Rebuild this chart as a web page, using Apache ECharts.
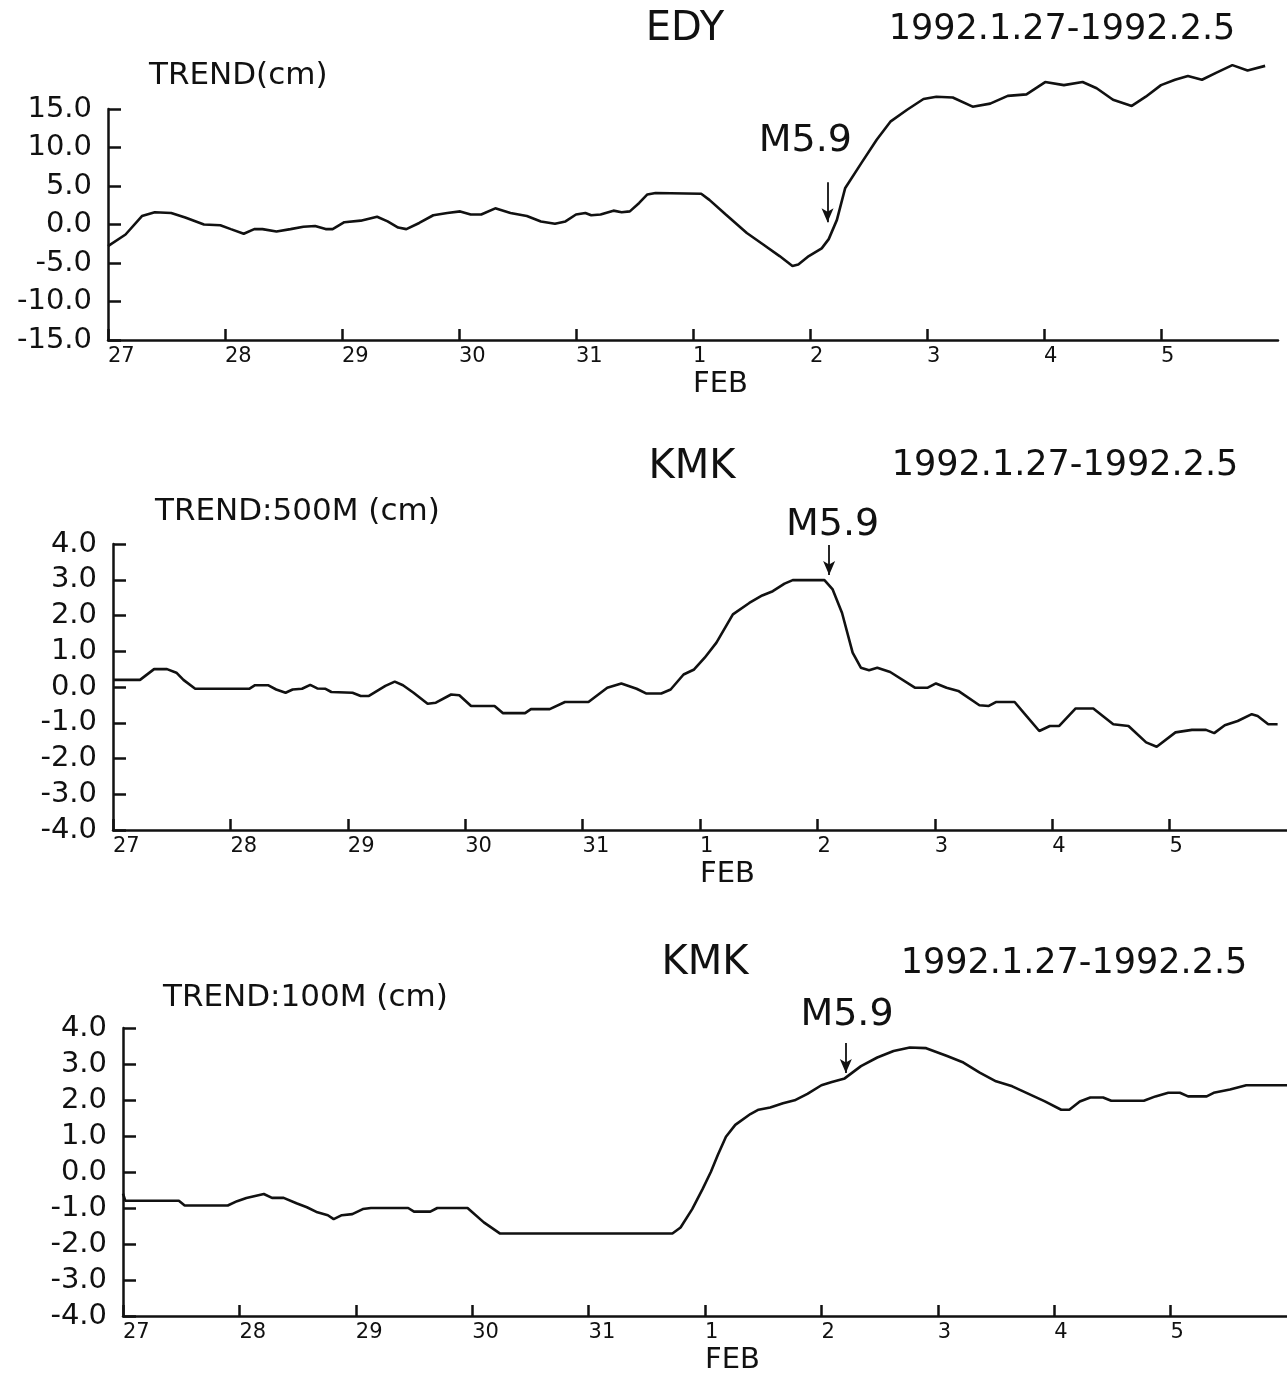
<!DOCTYPE html>
<html>
<head>
<meta charset="utf-8">
<script src="https://cdn.jsdelivr.net/npm/echarts@6.0.0/dist/echarts.min.js"></script>
<style>
  html, body { margin: 0; padding: 0; background: #fff; }
  #chart { width: 1287px; height: 1377px; }
</style>
</head>
<body>
<div id="chart"></div>
<script>
/****** DATA ******/
// x = days after 1992.1.27 00:00
const dayLabels = ['27', '28', '29', '30', '31', '1', '2', '3', '4', '5'];
const dayTicks = [0, 1, 2, 3, 4, 5, 6, 7, 8, 9];

// EDY trend (cm)
const edyDay = [0, 0.15, 0.29, 0.40, 0.54, 0.66, 0.82, 0.96, 1.05, 1.16, 1.25, 1.32, 1.44, 1.56, 1.67, 1.77, 1.86, 1.92,
  2.02, 2.16, 2.30, 2.39, 2.48, 2.55, 2.66, 2.78, 2.90, 3.01, 3.10, 3.19, 3.31, 3.44, 3.58, 3.70, 3.82, 3.91,
  4.00, 4.08, 4.13, 4.21, 4.32, 4.39, 4.46, 4.54, 4.61, 4.68, 5.07, 5.14, 5.28, 5.46, 5.60, 5.74, 5.85, 5.90,
  5.99, 6.10, 6.16, 6.23, 6.30, 6.44, 6.57, 6.69, 6.83, 6.97, 7.08, 7.22, 7.39, 7.54, 7.69, 7.85, 8.01, 8.17,
  8.33, 8.45, 8.59, 8.75, 8.87, 9.00, 9.12, 9.23, 9.35, 9.47, 9.61, 9.74, 9.89];
const edyTrend = [-2.8, -1.3, 1.1, 1.6, 1.5, 0.9, 0.0, -0.1, -0.6, -1.2, -0.6, -0.6, -0.9, -0.6, -0.3, -0.2, -0.6, -0.6,
  0.3, 0.5, 1.0, 0.4, -0.4, -0.6, 0.2, 1.2, 1.5, 1.7, 1.3, 1.3, 2.1, 1.5, 1.1, 0.4, 0.1, 0.4,
  1.3, 1.5, 1.2, 1.3, 1.8, 1.6, 1.7, 2.8, 3.9, 4.1, 4.0, 3.2, 1.3, -1.1, -2.6, -4.1, -5.4, -5.2,
  -4.1, -3.1, -1.9, 0.6, 4.7, 8.0, 11.0, 13.4, 14.9, 16.3, 16.6, 16.5, 15.3, 15.7, 16.7, 16.9, 18.5, 18.1,
  18.5, 17.7, 16.2, 15.4, 16.6, 18.1, 18.8, 19.3, 18.8, 19.7, 20.7, 20.0, 20.6];

// KMK trend 500M (cm)
const kmk500Day = [0, 0.23, 0.35, 0.46, 0.54, 0.60, 0.70, 1.16, 1.21, 1.32, 1.39, 1.47, 1.53, 1.61, 1.68, 1.74, 1.81, 1.86,
  2.04, 2.11, 2.18, 2.32, 2.40, 2.47, 2.56, 2.68, 2.75, 2.88, 2.95, 3.05, 3.25, 3.32, 3.51, 3.56, 3.72, 3.85,
  4.05, 4.21, 4.33, 4.46, 4.54, 4.67, 4.75, 4.86, 4.95, 5.04, 5.14, 5.28, 5.42, 5.53, 5.62, 5.72, 5.79, 6.06,
  6.13, 6.21, 6.30, 6.37, 6.44, 6.51, 6.62, 6.83, 6.94, 7.01, 7.10, 7.20, 7.38, 7.46, 7.52, 7.68, 7.76, 7.89,
  7.98, 8.06, 8.20, 8.35, 8.52, 8.65, 8.80, 8.89, 9.05, 9.19, 9.31, 9.38, 9.47, 9.58, 9.70, 9.75, 9.84, 9.92];
const kmk500Trend = [0.2, 0.2, 0.5, 0.5, 0.4, 0.2, -0.05, -0.05, 0.05, 0.05, -0.07, -0.16, -0.07, -0.05, 0.06, -0.04, -0.05, -0.14,
  -0.16, -0.25, -0.25, 0.03, 0.15, 0.05, -0.16, -0.47, -0.44, -0.21, -0.23, -0.53, -0.53, -0.73, -0.73, -0.62, -0.62, -0.42,
  -0.42, -0.02, 0.10, -0.05, -0.18, -0.18, -0.07, 0.35, 0.49, 0.82, 1.24, 2.03, 2.35, 2.56, 2.68, 2.89, 2.99, 2.99,
  2.73, 2.07, 0.96, 0.54, 0.47, 0.54, 0.42, -0.02, -0.02, 0.10, -0.02, -0.11, -0.51, -0.53, -0.42, -0.42, -0.73, -1.23,
  -1.09, -1.09, -0.60, -0.60, -1.04, -1.09, -1.55, -1.67, -1.27, -1.20, -1.20, -1.29, -1.07, -0.95, -0.76, -0.81, -1.04, -1.04];

// KMK trend 100M (cm)
const kmk100Day = [0, 0.02, 0.48, 0.53, 0.90, 0.98, 1.06, 1.21, 1.28, 1.38, 1.49, 1.58, 1.67, 1.76, 1.81, 1.88, 1.97, 2.06,
  2.13, 2.45, 2.50, 2.64, 2.70, 2.96, 3.10, 3.24, 4.72, 4.79, 4.89, 4.98, 5.05, 5.11, 5.18, 5.26, 5.39, 5.46,
  5.56, 5.67, 5.77, 5.88, 6.00, 6.09, 6.20, 6.34, 6.48, 6.62, 6.76, 6.90, 7.08, 7.22, 7.36, 7.50, 7.64, 7.78,
  7.92, 8.06, 8.13, 8.22, 8.31, 8.42, 8.49, 8.77, 8.87, 8.98, 9.08, 9.15, 9.31, 9.37, 9.51, 9.65, 10.0];
const kmk100Trend = [-0.6, -0.8, -0.8, -0.93, -0.93, -0.81, -0.72, -0.61, -0.72, -0.72, -0.87, -0.98, -1.12, -1.20, -1.31, -1.20, -1.17, -1.03,
  -1.0, -1.0, -1.1, -1.1, -1.0, -1.0, -1.4, -1.71, -1.71, -1.54, -1.03, -0.47, 0, 0.47, 0.98, 1.31, 1.61, 1.73,
  1.79, 1.91, 1.99, 2.17, 2.41, 2.50, 2.60, 2.94, 3.18, 3.36, 3.46, 3.44, 3.22, 3.04, 2.76, 2.52, 2.38, 2.17,
  1.96, 1.73, 1.73, 1.96, 2.07, 2.07, 1.98, 1.98, 2.10, 2.20, 2.20, 2.10, 2.10, 2.20, 2.29, 2.41, 2.41];

// M5.9 earthquake: arrow [day, from, to] and label [day, value]
const quakeArrows = [[6.15, 5.5, 0.3], [6.10, 3.97, 3.13], [6.21, 3.58, 2.75]];
const quakeLabels = [[5.96, 10.8], [6.13, 4.53], [6.22, 4.36]];
const quakeText = 'M5.9';

const stations = ['EDY', 'KMK', 'KMK'];
const trendTitles = ['TREND(cm)', 'TREND:500M (cm)', 'TREND:100M (cm)'];
const period = '1992.1.27-1992.2.5';

/****** LAYOUT ******/
const FONT = "'DejaVu Sans', sans-serif";
const INK = '#111';

const panels = [
  { days: edyDay, values: edyTrend, yMin: -15, yMax: 15, yStep: 5,
    grid: { left: 108, top: 109, width: 1170, height: 231 },
    stationAt: [685, 30], periodAt: [1062, 30], trendAt: [149, 76] },
  { days: kmk500Day, values: kmk500Trend, yMin: -4, yMax: 4, yStep: 1,
    grid: { left: 113, top: 544, width: 1175, height: 286 },
    stationAt: [692, 468], periodAt: [1065, 466], trendAt: [155, 512] },
  { days: kmk100Day, values: kmk100Trend, yMin: -4, yMax: 4, yStep: 1,
    grid: { left: 123, top: 1028, width: 1172, height: 288 },
    stationAt: [705, 964], periodAt: [1074, 964], trendAt: [163, 998] }
];

var grids = [], xAxes = [], yAxes = [], series = [], texts = [];

panels.forEach(function (p, i) {
  grids.push(p.grid);

  xAxes.push({
    gridIndex: i, type: 'value', min: 0, max: 10, interval: 1,
    axisLine: { onZero: false, lineStyle: { color: INK, width: 2.5 } },
    axisTick: { inside: true, length: 11, customValues: dayTicks, lineStyle: { color: INK, width: 2.5 } },
    axisLabel: {
      customValues: dayTicks, align: 'left', margin: 6,
      color: INK, fontFamily: FONT, fontSize: 21,
      formatter: function (v) {
        var lab = dayLabels[Math.round(v)];
        return Math.round(v) === 5 ? lab + '\n{f|FEB}' : lab;
      },
      rich: { f: { fontFamily: FONT, fontSize: 29, color: INK, padding: [3, 0, 0, 0] } }
    },
    splitLine: { show: false }
  });

  yAxes.push({
    gridIndex: i, type: 'value', min: p.yMin, max: p.yMax, interval: p.yStep,
    axisLine: { onZero: false, lineStyle: { color: INK, width: 2.5 } },
    axisTick: { inside: true, length: 13, lineStyle: { color: INK, width: 2.5 } },
    axisLabel: {
      margin: 16, color: INK, fontFamily: FONT, fontSize: 29,
      formatter: function (v) { return v.toFixed(1); }
    },
    splitLine: { show: false }
  });

  var arrow = quakeArrows[i];
  series.push({
    type: 'line', xAxisIndex: i, yAxisIndex: i,
    data: p.days.map(function (d, k) { return [d, p.values[k]]; }),
    showSymbol: false, symbol: 'none', clip: false,
    lineStyle: { color: INK, width: 2.6 },
    markLine: {
      silent: true, symbol: ['none', 'arrow'], symbolSize: [9, 14],
      lineStyle: { color: INK, width: 1.8, type: 'solid' },
      label: { show: false },
      data: [[{ coord: [arrow[0], arrow[1]] }, { coord: [arrow[0], arrow[2]] }]]
    }
  });

  // M5.9 label as an annotation point
  series.push({
    type: 'scatter', xAxisIndex: i, yAxisIndex: i, clip: false,
    symbolSize: 0, silent: true,
    itemStyle: { opacity: 1 },
    data: [quakeLabels[i]],
    label: { show: true, position: 'inside', formatter: quakeText, color: INK, fontFamily: FONT, fontSize: 38 }
  });

  texts.push({ type: 'text', x: p.stationAt[0], y: p.stationAt[1],
    style: { text: stations[i], fill: INK, font: '40px ' + FONT, textAlign: 'center', textVerticalAlign: 'middle' } });
  texts.push({ type: 'text', x: p.periodAt[0], y: p.periodAt[1],
    style: { text: period, fill: INK, font: '35px ' + FONT, textAlign: 'center', textVerticalAlign: 'middle' } });
  texts.push({ type: 'text', x: p.trendAt[0], y: p.trendAt[1],
    style: { text: trendTitles[i], fill: INK, font: '31px ' + FONT, textAlign: 'left', textVerticalAlign: 'middle' } });
});

var option = {
  backgroundColor: '#fff',
  animation: false,
  grid: grids,
  xAxis: xAxes,
  yAxis: yAxes,
  series: series,
  graphic: texts
};

var chart = echarts.init(document.getElementById('chart'), null, { renderer: 'canvas' });
chart.setOption(option);
</script>
</body>
</html>
